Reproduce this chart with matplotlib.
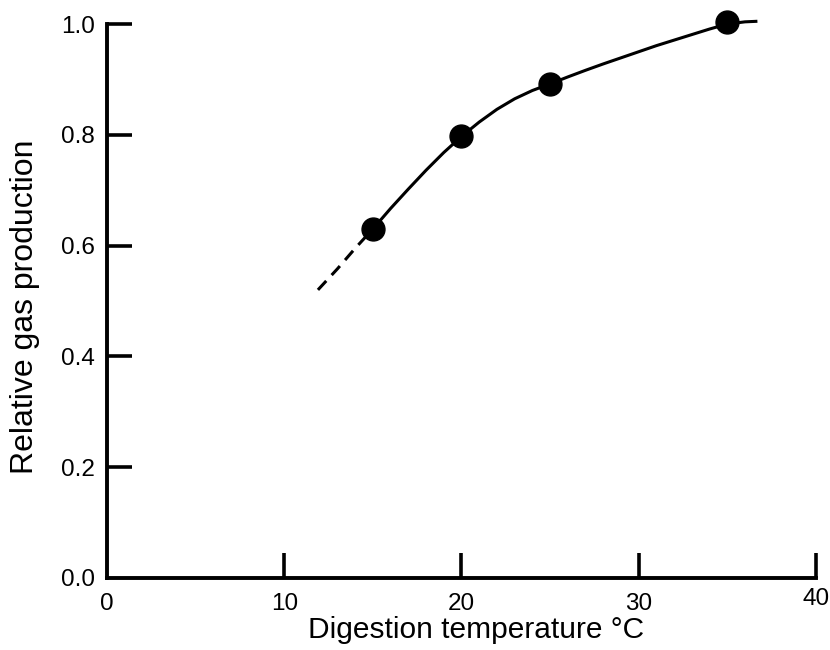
import numpy as np
import matplotlib
matplotlib.use("Agg")
import matplotlib.pyplot as plt
import matplotlib.transforms as mtransforms

plt.rcParams['font.family'] = ['Liberation Sans', 'DejaVu Sans']
plt.rcParams['xtick.labelsize'] = 17.5
plt.rcParams['ytick.labelsize'] = 17.5

# measured points
temp = [15, 20, 25, 35]
gas = [0.630, 0.798, 0.892, 1.003]

# curve drawn through the points
curve_x = [15, 16, 17, 18, 19, 20, 21, 22, 23, 24, 25, 26, 27, 28, 29, 30,
           31, 32, 33, 34, 35, 36, 36.7]
curve_y = [0.630, 0.667, 0.702, 0.736, 0.768, 0.797, 0.823, 0.846, 0.865,
           0.880, 0.892, 0.9045, 0.9165, 0.928, 0.939, 0.950, 0.961, 0.971,
           0.981, 0.991, 1.000, 1.004, 1.005]
# extrapolated part (dashed)
dash_x = [11.9, 13, 14, 15]
dash_y = [0.520, 0.558, 0.595, 0.630]

xticks = [0, 10, 20, 30, 40]
yticks = [0.0, 0.2, 0.4, 0.6, 0.8, 1.0]

fig = plt.figure(figsize=(8.3, 6.5), dpi=100)
ax = fig.add_axes([0.129, 0.111, 0.854, 0.852])

ax.plot(curve_x, curve_y, color='black', lw=2.2, clip_on=False,
        solid_capstyle='butt', solid_joinstyle='round')
ax.plot(dash_x, dash_y, color='black', lw=2.2, dashes=(4, 2.6),
        clip_on=False)
ax.plot(temp, gas, 'o', color='black', ms=16.5, clip_on=False, zorder=3)

ax.set_xlim(0, 40)
ax.set_ylim(0, 1.0)

for s in ['top', 'right']:
    ax.spines[s].set_visible(False)
for s in ['left', 'bottom']:
    ax.spines[s].set_linewidth(2.8)

ax.tick_params(direction='in', length=18, width=2.6)
ax.tick_params(axis='x', pad=11)
ax.tick_params(axis='y', pad=9)
ax.set_xticks(xticks)
ax.set_yticks(yticks)
ax.set_xticklabels([str(t) for t in xticks])
ax.set_yticklabels([f"{t:.1f}" for t in yticks])

# hide the tick marks at the origin (they sit on the spines)
ax.xaxis.get_major_ticks()[0].tick1line.set_visible(False)
ax.yaxis.get_major_ticks()[0].tick1line.set_visible(False)

# the 40 label sits a little higher in the original
lbl = ax.get_xticklabels()[-1]
lbl.set_transform(lbl.get_transform() +
                  mtransforms.ScaledTranslation(0, 0.05, fig.dpi_scale_trans))

ax.set_xlabel('Digestion temperature °C', fontsize=21.5)
ax.xaxis.set_label_coords(0.52, -0.068)
ax.xaxis.label.set_va('top')
ax.set_ylabel('Relative gas production', fontsize=23)
ax.yaxis.set_label_coords(-0.095, 0.49)

fig.savefig('out.png', dpi=100)
